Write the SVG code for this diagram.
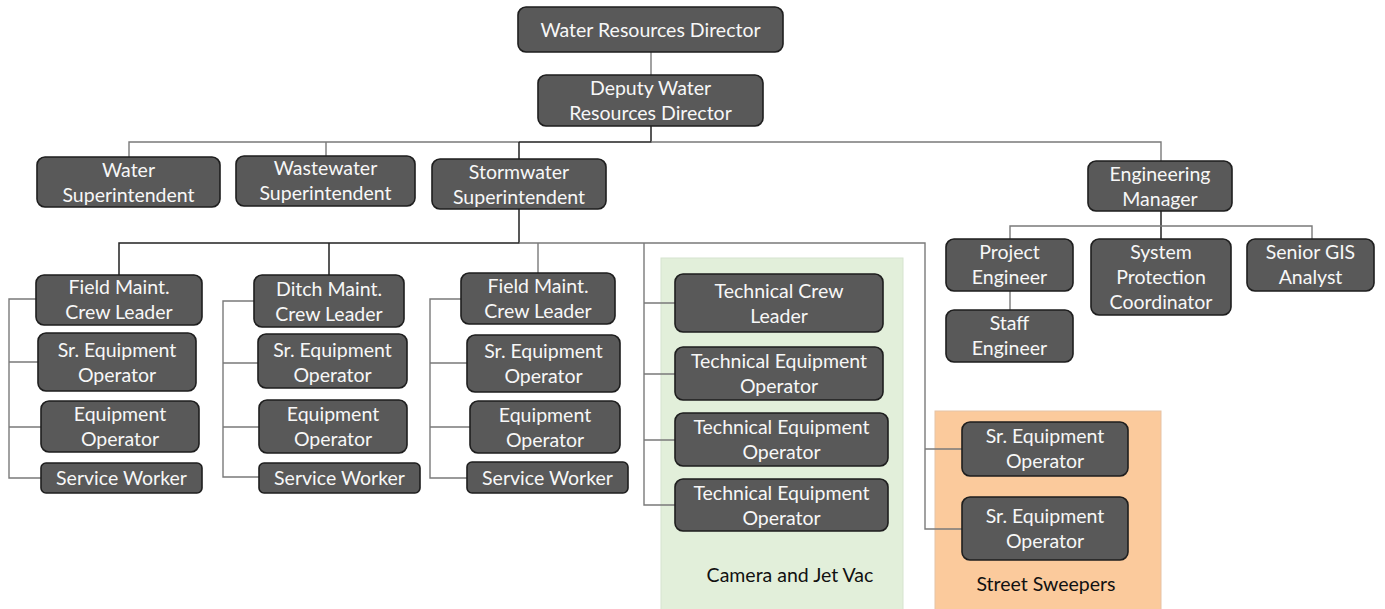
<svg xmlns="http://www.w3.org/2000/svg" width="1385" height="609" viewBox="0 0 1385 609">
  <style>
    .box { fill: #595959; stroke: #1e1e1e; stroke-width: 1.6; }
    .lbl { font-family: Lato, "Open Sans", "Liberation Sans", sans-serif; font-size: 19.5px; fill: #f7f7f7; text-anchor: middle; }
    .cap { font-family: Lato, "Open Sans", "Liberation Sans", sans-serif; font-size: 19.5px; fill: #111111; text-anchor: middle; }
    .ln { fill: none; stroke: #7a7a7a; stroke-width: 1.4; }
    .dk { fill: none; stroke: #222222; stroke-width: 1.5; }
  </style>

  <!-- team backgrounds -->
  <g id="areas">
    <rect id="area-camera-jetvac" x="661" y="258" width="242" height="352" fill="#e2efda" stroke="#d6e3cf" stroke-width="1"/>
    <rect id="area-street-sweepers" x="935" y="411" width="226" height="199" fill="#fbca9c" stroke="#e6c3a6" stroke-width="1"/>
    <text class="cap" x="790" y="582">Camera and Jet Vac</text>
    <text class="cap" x="1046" y="591">Street Sweepers</text>
  </g>

  <!-- reporting lines -->
  <g id="connectors">
    <path class="ln" d="M651 52V75"/>
    <path class="dk" d="M651 126V142H519"/>
    <path class="ln" d="M129 157V142H519M651 142H1161V161M326 142V156"/>
    <path class="dk" d="M519 142V159"/>
    <path class="dk" d="M519 209V243H119V275M329 243V275"/>
    <path class="ln" d="M519 243H925V529H962M925 449H962M538 243V273"/>
    <path class="ln" d="M644 243V505H675M644 303H675M644 374H675M644 440H675"/>
    <!-- field maint. crew 1 -->
    <path class="ln" d="M36 299H9V478H41M9 362H38M9 427H41"/>
    <!-- ditch maint. crew -->
    <path class="ln" d="M254 301H223V477H259M223 363H258M223 427H259"/>
    <!-- field maint. crew 2 -->
    <path class="ln" d="M461 299H430V478H467M430 363H467M430 427H470"/>
    <!-- engineering -->
    <path class="dk" d="M1161 211V239"/>
    <path class="ln" d="M1010 239V226H1312V239M1010 291V310"/>
  </g>

  <g id="n-water-resources-director">
    <rect class="box" x="518" y="7" width="265" height="45" rx="8"/>
    <text class="lbl" x="650.5" y="37">Water Resources Director</text>
  </g>
  <g id="n-deputy-director">
    <rect class="box" x="538" y="75" width="225" height="51" rx="8"/>
    <text class="lbl" x="650.5" y="95">Deputy Water</text>
    <text class="lbl" x="650.5" y="120">Resources Director</text>
  </g>
  <g id="n-water-superintendent">
    <rect class="box" x="37" y="157" width="183" height="50" rx="8"/>
    <text class="lbl" x="128.5" y="177">Water</text>
    <text class="lbl" x="128.5" y="202">Superintendent</text>
  </g>
  <g id="n-wastewater-superintendent">
    <rect class="box" x="236" y="156" width="179" height="50" rx="8"/>
    <text class="lbl" x="325.5" y="175">Wastewater</text>
    <text class="lbl" x="325.5" y="200">Superintendent</text>
  </g>
  <g id="n-stormwater-superintendent">
    <rect class="box" x="432" y="159" width="174" height="50" rx="8"/>
    <text class="lbl" x="519" y="179">Stormwater</text>
    <text class="lbl" x="519" y="204">Superintendent</text>
  </g>
  <g id="n-engineering-manager">
    <rect class="box" x="1088" y="161" width="144" height="50" rx="8"/>
    <text class="lbl" x="1160" y="181">Engineering</text>
    <text class="lbl" x="1160" y="206">Manager</text>
  </g>
  <g id="n-project-engineer">
    <rect class="box" x="946" y="239" width="127" height="52" rx="8"/>
    <text class="lbl" x="1009.5" y="259">Project</text>
    <text class="lbl" x="1009.5" y="284">Engineer</text>
  </g>
  <g id="n-system-protection">
    <rect class="box" x="1091" y="239" width="140" height="76" rx="8"/>
    <text class="lbl" x="1161" y="259">System</text>
    <text class="lbl" x="1161" y="284">Protection</text>
    <text class="lbl" x="1161" y="309">Coordinator</text>
  </g>
  <g id="n-senior-gis">
    <rect class="box" x="1247" y="239" width="127" height="52" rx="8"/>
    <text class="lbl" x="1310.5" y="259">Senior GIS</text>
    <text class="lbl" x="1310.5" y="284">Analyst</text>
  </g>
  <g id="n-staff-engineer">
    <rect class="box" x="946" y="310" width="127" height="52" rx="8"/>
    <text class="lbl" x="1009.5" y="330">Staff</text>
    <text class="lbl" x="1009.5" y="355">Engineer</text>
  </g>

  <!-- field maint. crew 1 -->
  <g id="n-field-leader-1">
    <rect class="box" x="36" y="275" width="166" height="50" rx="8"/>
    <text class="lbl" x="119" y="294">Field Maint.</text>
    <text class="lbl" x="119" y="319">Crew Leader</text>
  </g>
  <g id="n-sr-operator-1">
    <rect class="box" x="38" y="333" width="158" height="58" rx="8"/>
    <text class="lbl" x="117" y="357">Sr. Equipment</text>
    <text class="lbl" x="117" y="382">Operator</text>
  </g>
  <g id="n-operator-1">
    <rect class="box" x="41" y="401" width="158" height="51" rx="8"/>
    <text class="lbl" x="120" y="421">Equipment</text>
    <text class="lbl" x="120" y="446">Operator</text>
  </g>
  <g id="n-service-worker-1">
    <rect class="box" x="41" y="463" width="161" height="30" rx="5"/>
    <text class="lbl" x="121.5" y="485">Service Worker</text>
  </g>

  <!-- ditch maint. crew -->
  <g id="n-ditch-leader">
    <rect class="box" x="254" y="275" width="150" height="52" rx="8"/>
    <text class="lbl" x="329" y="296">Ditch Maint.</text>
    <text class="lbl" x="329" y="321">Crew Leader</text>
  </g>
  <g id="n-sr-operator-2">
    <rect class="box" x="258" y="334" width="149" height="54" rx="8"/>
    <text class="lbl" x="332.5" y="357">Sr. Equipment</text>
    <text class="lbl" x="332.5" y="382">Operator</text>
  </g>
  <g id="n-operator-2">
    <rect class="box" x="259" y="400" width="148" height="53" rx="8"/>
    <text class="lbl" x="333" y="421">Equipment</text>
    <text class="lbl" x="333" y="446">Operator</text>
  </g>
  <g id="n-service-worker-2">
    <rect class="box" x="259" y="463" width="161" height="30" rx="5"/>
    <text class="lbl" x="339.5" y="485">Service Worker</text>
  </g>

  <!-- field maint. crew 2 -->
  <g id="n-field-leader-2">
    <rect class="box" x="461" y="273" width="154" height="51" rx="8"/>
    <text class="lbl" x="538" y="293">Field Maint.</text>
    <text class="lbl" x="538" y="318">Crew Leader</text>
  </g>
  <g id="n-sr-operator-3">
    <rect class="box" x="467" y="335" width="153" height="57" rx="8"/>
    <text class="lbl" x="543.5" y="358">Sr. Equipment</text>
    <text class="lbl" x="543.5" y="383">Operator</text>
  </g>
  <g id="n-operator-3">
    <rect class="box" x="470" y="401" width="150" height="52" rx="8"/>
    <text class="lbl" x="545" y="422">Equipment</text>
    <text class="lbl" x="545" y="447">Operator</text>
  </g>
  <g id="n-service-worker-3">
    <rect class="box" x="467" y="462" width="161" height="31" rx="5"/>
    <text class="lbl" x="547.5" y="485">Service Worker</text>
  </g>

  <!-- camera and jet vac team -->
  <g id="n-technical-leader">
    <rect class="box" x="675" y="274" width="208" height="58" rx="8"/>
    <text class="lbl" x="779" y="298">Technical Crew</text>
    <text class="lbl" x="779" y="323">Leader</text>
  </g>
  <g id="n-technical-operator-1">
    <rect class="box" x="675" y="347" width="208" height="53" rx="8"/>
    <text class="lbl" x="779" y="368">Technical Equipment</text>
    <text class="lbl" x="779" y="393">Operator</text>
  </g>
  <g id="n-technical-operator-2">
    <rect class="box" x="675" y="413" width="213" height="53" rx="8"/>
    <text class="lbl" x="781.5" y="434">Technical Equipment</text>
    <text class="lbl" x="781.5" y="459">Operator</text>
  </g>
  <g id="n-technical-operator-3">
    <rect class="box" x="675" y="479" width="213" height="52" rx="8"/>
    <text class="lbl" x="781.5" y="500">Technical Equipment</text>
    <text class="lbl" x="781.5" y="525">Operator</text>
  </g>

  <!-- street sweepers -->
  <g id="n-sweeper-operator-1">
    <rect class="box" x="962" y="422" width="166" height="54" rx="8"/>
    <text class="lbl" x="1045" y="443">Sr. Equipment</text>
    <text class="lbl" x="1045" y="468">Operator</text>
  </g>
  <g id="n-sweeper-operator-2">
    <rect class="box" x="962" y="497" width="166" height="63" rx="8"/>
    <text class="lbl" x="1045" y="523">Sr. Equipment</text>
    <text class="lbl" x="1045" y="548">Operator</text>
  </g>
</svg>
